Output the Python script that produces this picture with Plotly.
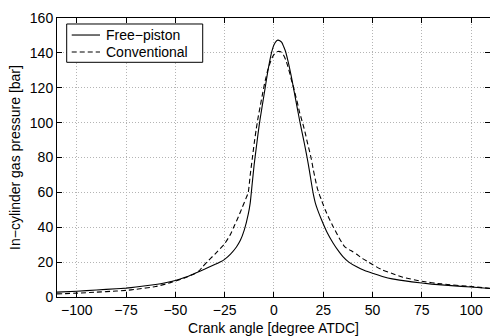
import plotly.graph_objects as go

# Free-piston engine (solid)
angle_fp = [-110, -100, -90, -80, -75, -70, -60, -55, -50, -45, -40, -35, -30, -27, -25, -22, -19, -17,
            -15, -13, -12, -11, -10, -9, -8, -7, -6, -5, -4, -3, -2, -1, 0, 1, 2, 3, 4, 5, 6, 7, 8,
            9, 10, 11, 12, 13, 14, 15, 16, 17, 18, 19, 20, 21, 22, 23, 25, 27, 30, 33, 35, 38, 42,
            46, 50, 55, 60, 70, 80, 90, 100, 110]
pressure_fp = [2.8, 3.3, 4.0, 4.7, 5.1, 5.7, 7.2, 8.2, 9.5, 11.3, 13.6, 16.0, 18.6, 20.2, 21.6, 24.6, 28.7, 32.5,
               38.5, 47.5, 54, 65, 76, 85, 94, 102, 109, 116, 123, 130, 136, 141, 144.5, 146.5, 147.3, 147, 146, 143.5, 140.5, 136, 131,
               125.5, 119.5, 113.5, 107.5, 101.5, 96, 90.5, 85, 79, 72.5, 65.5, 59, 54, 50.5, 47.5, 42, 37, 31, 26, 23.2, 20, 17.3,
               15.2, 13.6, 11.8, 10.4, 8.7, 7.4, 6.5, 5.7, 4.8]

# Conventional engine (dashed)
angle_conv = [-110, -100, -90, -80, -75, -70, -60, -55, -50, -45, -40, -38, -36, -34, -30, -25, -22, -20,
              -18, -16, -14, -13, -12, -11, -10, -9, -8, -7, -6, -5, -4, -3, -2, -1, 0, 1, 2, 3, 4, 5,
              6, 7, 8, 9, 10, 11, 12, 13, 14, 15, 16, 17, 18, 19, 20, 21, 22, 23, 24, 25, 26, 28, 30,
              33, 36, 40, 42, 45, 48, 50, 55, 60, 65, 75, 85, 100, 110]
pressure_conv = [1.8, 2.2, 2.8, 3.4, 3.8, 4.4, 6.0, 7.4, 9.1, 11.0, 13.5, 15.0, 17.5, 20.0, 24.5, 30.5, 36, 41,
                 46, 51.5, 57, 60, 70, 79, 88, 96, 103, 109, 115, 121, 126, 130.5, 134, 137, 139, 140.3, 140.8, 140.8, 140.2, 138.5,
                 136, 132.5, 128.5, 124, 120, 115.5, 111, 106, 102, 98, 93.5, 88.5, 84, 79, 73, 67.5, 62.5, 59, 56, 53, 50, 45, 40.5,
                 34, 28.7, 26, 24.5, 22, 20, 18.6, 15.5, 13.5, 11.5, 9, 7.5, 6.0, 4.9]

series_names = ["Free\u2212piston", "Conventional"]
series_dash = ["solid", "5px,3px"]

x_ticks = [-100, -75, -50, -25, 0, 25, 50, 75, 100]
y_ticks = [0, 20, 40, 60, 80, 100, 120, 140, 160]

FONT = "Liberation Sans, Arial, Helvetica, sans-serif"

fig = go.Figure()
for xs, ys, name, dash in [(angle_fp, pressure_fp, series_names[0], series_dash[0]),
                           (angle_conv, pressure_conv, series_names[1], series_dash[1])]:
    fig.add_trace(go.Scatter(x=xs, y=ys, mode="lines", name=name, showlegend=False,
                             line=dict(color="black", width=1.1, dash=dash, shape="spline", smoothing=0.5)))

axis_common = dict(showline=True, linecolor="black", linewidth=1, mirror="ticks",
                   ticks="inside", ticklen=5, tickcolor="black", tickwidth=1,
                   showgrid=True, gridcolor="#b4b4b4", griddash="1px,2px", gridwidth=1,
                   zeroline=False, tickfont=dict(family=FONT, size=14, color="black"))

fig.update_xaxes(range=[-110, 109.6], tickvals=x_ticks,
                 title=dict(text="Crank angle [degree ATDC]", font=dict(family=FONT, size=14, color="black"), standoff=7),
                 **axis_common)
fig.update_yaxes(range=[0, 160], tickvals=y_ticks,
                 title=dict(text="In\u2212cylinder gas pressure [bar]", font=dict(family=FONT, size=14, color="black"), standoff=5),
                 **axis_common)

# Manual legend (MATLAB style box)
legend_box = dict(x0=0.0224, x1=0.3365, y0=0.8412, y1=0.9785)
legend_rows_y = [0.939, 0.878]
legend_line_x = (0.034, 0.0993)
legend_text_x = 0.1075

shapes = [dict(type="rect", xref="paper", yref="paper", line=dict(color="black", width=1),
               fillcolor="white", layer="above", **legend_box)]
annotations = []
for name, dash, ry in zip(series_names, series_dash, legend_rows_y):
    shapes.append(dict(type="line", xref="paper", yref="paper", x0=legend_line_x[0], x1=legend_line_x[1],
                       y0=ry, y1=ry, line=dict(color="black", width=1.1, dash=dash), layer="above"))
    annotations.append(dict(text=name, xref="paper", yref="paper", x=legend_text_x, y=ry,
                            xanchor="left", yanchor="middle", showarrow=False,
                            font=dict(family=FONT, size=14, color="black")))

fig.update_layout(
    width=490, height=336,
    margin=dict(l=57, r=0, t=18, b=39),
    paper_bgcolor="white", plot_bgcolor="white",
    font=dict(family=FONT, size=14, color="black"),
    shapes=shapes, annotations=annotations,
    showlegend=False,
)

fig.write_html("out.html")
